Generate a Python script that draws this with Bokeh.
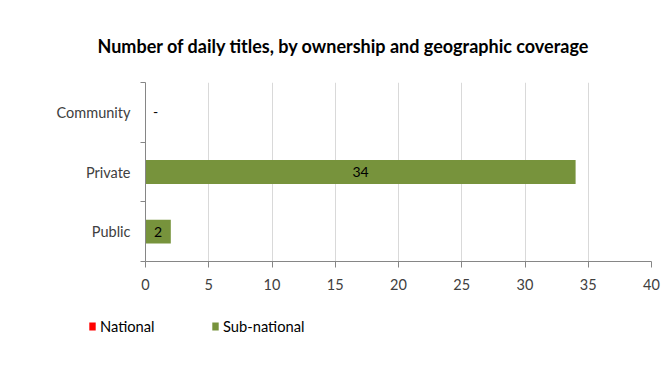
from bokeh.plotting import figure
from bokeh.layouts import column
from bokeh.models import ColumnDataSource, FixedTicker, Legend, LegendItem, Title
from bokeh.core.properties import value
from bokeh.embed import file_html
from bokeh.resources import INLINE

# Data (bottom to top)
categories = ["Public", "Private", "Community"]
national = [0, 0, 0]
sub_national = [2, 34, 0]
data_labels = ["2", "34", "-"]
x_ticks = [0, 5, 10, 15, 20, 25, 30, 35, 40]
series_names = ["National", "Sub-national"]

FONT = "Lato"
GREEN = "#77933c"
RED = "#ff0000"

ypos = [i + 0.5 for i in range(len(categories))]
left_sub = national
right_sub = [n + s for n, s in zip(national, sub_national)]
src = ColumnDataSource(dict(
    y=ypos, cat=categories, nat=national, sub_l=left_sub, sub_r=right_sub,
    lab_x=[l + (r - l) / 2 for l, r in zip(left_sub, right_sub)],
    lab=data_labels, xoff=[0 if v else 10 for v in sub_national],
))

p = figure(width=671, height=300, output_backend="svg", toolbar_location=None,
           x_range=(0, 40), y_range=(0, len(categories)),
           min_border_left=145, min_border_right=20, min_border_top=82, min_border_bottom=39)
p.title = Title(text="Number of daily titles, by ownership and geographic coverage",
                align="left", offset=-48, standoff=52,
                text_font=FONT, text_font_size="18px", text_font_style="bold",
                text_color="#000000")
p.outline_line_color = None
p.background_fill_color = "white"
p.border_fill_color = "white"

p.hbar(y="y", left=0, right="nat", height=0.4, source=src, fill_color=RED, line_color=None)
p.hbar(y="y", left="sub_l", right="sub_r", height=0.4, source=src, fill_color=GREEN, line_color=None)

p.text(x="lab_x", y="y", text="lab", source=src, text_align="center", text_baseline="middle",
       x_offset="xoff", text_font=value(FONT), text_font_size="14px", text_color="#000000")

# x axis
p.xaxis.ticker = FixedTicker(ticks=x_ticks)
p.xaxis.axis_line_color = "#868686"
p.xaxis.major_tick_line_color = "#868686"
p.xaxis.major_tick_out = 6
p.xaxis.major_tick_in = 0
p.xaxis.minor_tick_line_color = None
p.xaxis.major_label_text_font = FONT
p.xaxis.major_label_text_font_size = "14.5px"
p.xaxis.major_label_text_color = "#404040"
p.xaxis.major_label_standoff = 11

# y axis: labels at centres, ticks at boundaries
p.yaxis.ticker = FixedTicker(ticks=ypos, minor_ticks=list(range(len(categories) + 1)))
p.yaxis.major_label_overrides = {y: c for y, c in zip(ypos, categories)}
p.yaxis.axis_line_color = "#868686"
p.yaxis.major_tick_line_color = None
p.yaxis.minor_tick_line_color = "#868686"
p.yaxis.minor_tick_out = 5
p.yaxis.minor_tick_in = 0
p.yaxis.major_label_text_font = FONT
p.yaxis.major_label_text_font_size = "14.5px"
p.yaxis.major_label_text_color = "#404040"
p.yaxis.major_label_standoff = 9

p.xgrid.grid_line_color = "#d9d9d9"
p.ygrid.grid_line_color = None

# legend strip (a second figure below the chart; its ranges keep its own bars out of view)
lg = figure(width=671, height=75, output_backend="svg", toolbar_location=None,
            x_range=(0, 40), y_range=(10, 11),
            min_border_left=0, min_border_right=0, min_border_top=0, min_border_bottom=0)
lg.axis.visible = False
lg.grid.visible = False
lg.outline_line_color = None
lg.border_fill_color = "white"
l_nat = lg.hbar(y="y", left=0, right="nat", height=0.4, source=src, fill_color=RED, line_color=None)
l_sub = lg.hbar(y="y", left="sub_l", right="sub_r", height=0.4, source=src, fill_color=GREEN,
                line_color=None)
legend = Legend(items=[LegendItem(label=series_names[0], renderers=[l_nat]),
                       LegendItem(label=series_names[1], renderers=[l_sub])],
                orientation="horizontal", location=(88, 40),
                glyph_width=8, glyph_height=10, label_standoff=4, label_width=111, spacing=0,
                padding=0, margin=0, border_line_color=None, background_fill_alpha=0,
                label_text_font=FONT, label_text_font_size="14.7px", label_text_color="#000000")
lg.add_layout(legend, "center")

layout = column(p, column(lg), spacing=0)
open("out.html", "w").write(file_html(layout, INLINE))
